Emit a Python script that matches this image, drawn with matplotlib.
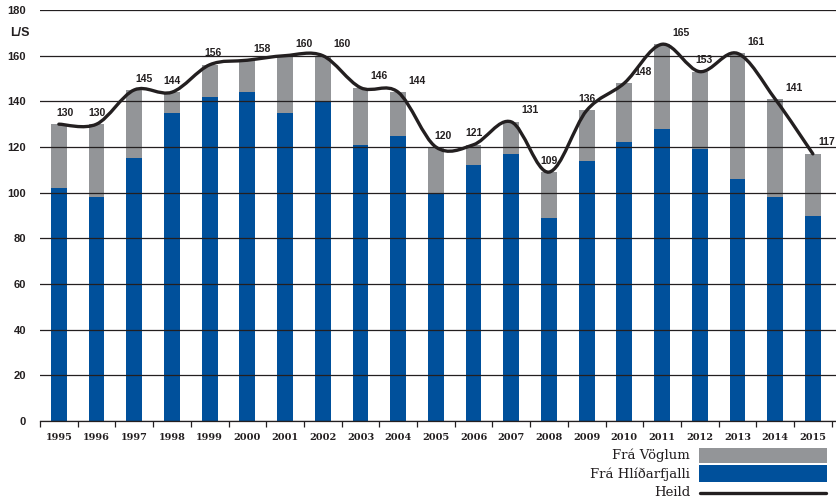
import numpy as np
import matplotlib

matplotlib.use("Agg")
import matplotlib.pyplot as plt
from matplotlib.path import Path
from matplotlib.patches import PathPatch, Rectangle

# --- data (L/S) ---
years = [str(y) for y in range(1995, 2016)]
heild = [130, 130, 145, 144, 156, 158, 160, 160, 146, 144, 120,
         121, 131, 109, 136, 148, 165, 153, 161, 141, 117]
fra_hlidarfjalli = [102, 98, 115, 135, 142, 144, 135, 140, 121, 125, 100,
                    112, 117, 89, 114, 122, 128, 119, 106, 98, 90]
fra_voglum = [t - h for t, h in zip(heild, fra_hlidarfjalli)]

BLUE = "#00509b"
GRAY = "#939598"
INK = "#231f20"

# label nudges (category units), hand-placed like the original
label_dx = [0.15, 0, 0.25, 0, 0.1, 0.4, 0.5, 0.5, 0.5, 0.5, 0.2,
            0, 0.5, 0, 0, 0.5, 0.5, 0.1, 0.5, 0.5, 0.38]


def smooth_path(xs, ys):
    """Catmull-Rom through the points, as cubic bezier segments."""
    pts = np.column_stack([xs, ys]).astype(float)
    ext = np.vstack([pts[0], pts, pts[-1]])
    verts = [pts[0]]
    codes = [Path.MOVETO]
    for i in range(1, len(ext) - 2):
        p0, p1, p2, p3 = ext[i - 1], ext[i], ext[i + 1], ext[i + 2]
        c1 = p1 + (p2 - p0) / 6.0
        c2 = p2 - (p3 - p1) / 6.0
        verts += [c1, c2, p2]
        codes += [Path.CURVE4] * 3
    return Path(verts, codes)


fig = plt.figure(figsize=(8.37, 5.04), dpi=100)
W, H = 837, 504
ax = fig.add_axes([40 / W, 83 / H, 797 / W, 411 / H])

x = np.arange(len(years))
ax.bar(x, fra_hlidarfjalli, width=0.42, color=BLUE, zorder=1)
ax.bar(x, fra_voglum, bottom=fra_hlidarfjalli, width=0.42, color=GRAY, zorder=1)

ax.add_patch(PathPatch(smooth_path(x, heild), facecolor="none", edgecolor=INK,
                       lw=2.4, capstyle="round", zorder=4))

for i, v in enumerate(heild):
    ax.text(x[i] + label_dx[i], v + 5, str(v), ha="center", va="center",
            fontsize=7.5, fontweight="bold", family="Liberation Sans",
            color=INK, zorder=5, clip_on=False)

ax.set_xlim(-0.5, 20.64)
ax.set_ylim(0, 180)
ax.set_yticks(np.arange(0, 181, 20))
ax.yaxis.grid(True, color=INK, lw=0.9, zorder=3)
ax.set_axisbelow(False)

ax.set_xticks(x)
ax.set_xticklabels(years, fontsize=7, fontweight="bold", family="DejaVu Serif", color=INK)
ax.set_xticks(np.arange(-0.5, 21, 1), minor=True)
ax.tick_params(axis="x", which="major", length=0, pad=9)
ax.tick_params(axis="x", which="minor", length=4, width=0.9, color=INK, direction="out")
ax.tick_params(axis="y", length=0, pad=10)
for lbl in ax.get_yticklabels():
    lbl.set_fontsize(8)
    lbl.set_fontweight("bold")
    lbl.set_family("Liberation Sans")
    lbl.set_color(INK)

for side in ["top", "right", "left"]:
    ax.spines[side].set_visible(False)
ax.spines["bottom"].set_color(INK)
ax.spines["bottom"].set_linewidth(0.9)

fig.text(10 / W, 1 - 33 / H, "L/S", fontsize=9, fontweight="bold",
         family="Liberation Sans", color=INK, va="center", ha="left")

# legend in pixel coordinates
lg = fig.add_axes([0, 0, 1, 1], zorder=-1)
lg.set_xlim(0, W)
lg.set_ylim(H, 0)
lg.axis("off")
lg.add_patch(Rectangle((699, 448), 128, 15, color=GRAY, lw=0))
lg.add_patch(Rectangle((699, 465), 128, 17, color=BLUE, lw=0))
lg.plot([700, 826], [493, 493], color=INK, lw=2.4, solid_capstyle="round")
for txt, yy in [("Frá Vöglum", 455), ("Frá Hlíðarfjalli", 474), ("Heild", 492)]:
    lg.text(690, yy, txt, ha="right", va="center", fontsize=9.5,
            family="DejaVu Serif", color=INK)

fig.savefig("out.png", dpi=100)
